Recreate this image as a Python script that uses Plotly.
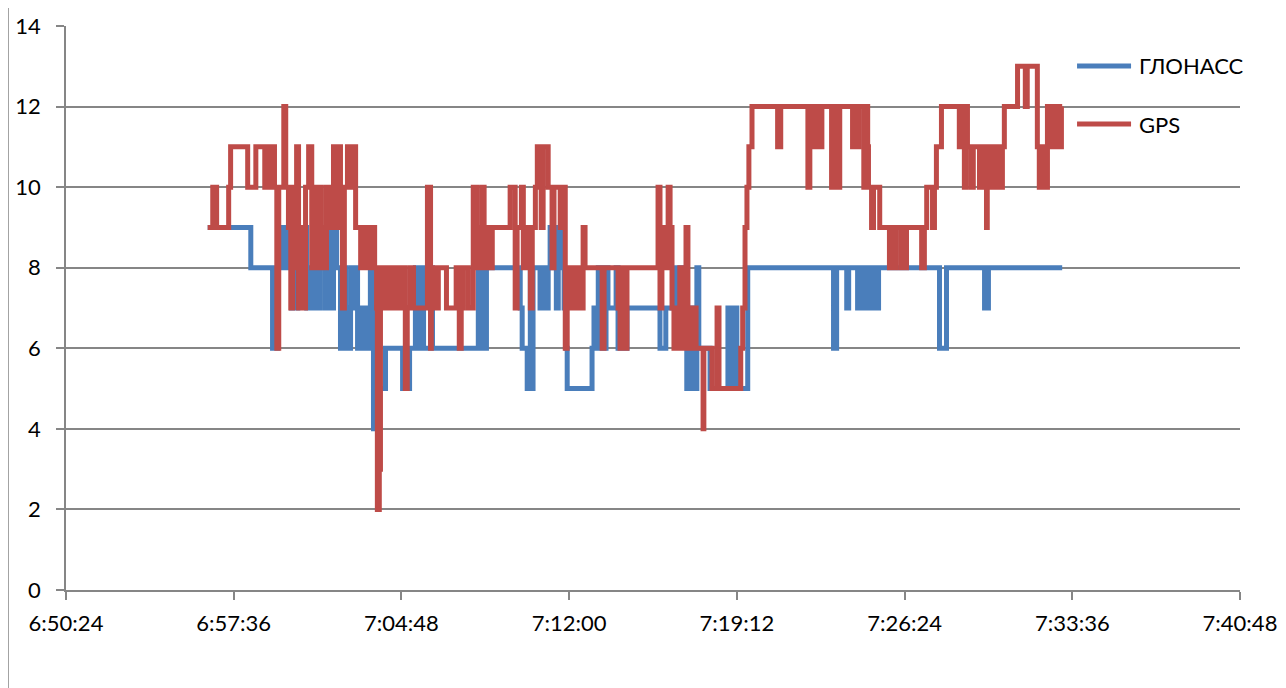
import pandas as pd
import plotly.graph_objects as go

# ---- data (time of day, number of satellites) ----
glonass_time = [
    "6:56:29", "6:58:20", "6:59:16", "6:59:29", "6:59:37", "6:59:45", "6:59:55", "7:00:00",
    "7:00:05", "7:00:10", "7:00:15", "7:00:21", "7:00:28", "7:00:36", "7:00:44", "7:00:51",
    "7:00:57", "7:01:04", "7:01:09", "7:01:17", "7:01:25", "7:01:30", "7:01:35", "7:01:43",
    "7:01:53", "7:02:01", "7:02:11", "7:02:19", "7:02:24", "7:02:29", "7:02:37", "7:02:42",
    "7:02:50", "7:02:55", "7:03:03", "7:03:08", "7:03:15", "7:03:21", "7:03:28", "7:03:36",
    "7:03:41", "7:04:07", "7:04:51", "7:05:09", "7:05:24", "7:05:32", "7:05:37", "7:05:45",
    "7:06:03", "7:06:08", "7:08:06", "7:08:11", "7:08:16", "7:08:21", "7:08:27", "7:09:54",
    "7:09:59", "7:10:12", "7:10:15", "7:10:20", "7:10:22", "7:10:27", "7:10:45", "7:10:51",
    "7:10:58", "7:11:06", "7:11:11", "7:11:19", "7:11:27", "7:11:32", "7:11:42", "7:11:47",
    "7:11:52", "7:11:55", "7:12:59", "7:13:04", "7:13:09", "7:13:15", "7:13:20", "7:13:25",
    "7:13:30", "7:13:35", "7:13:40", "7:14:01", "7:14:06", "7:14:14", "7:14:21", "7:14:29",
    "7:15:54", "7:16:09", "7:16:27", "7:16:35", "7:16:43", "7:16:51", "7:17:03", "7:17:11",
    "7:17:19", "7:17:29", "7:17:34", "7:18:03", "7:18:49", "7:18:57", "7:19:02", "7:19:12",
    "7:19:40", "7:23:21", "7:23:29", "7:23:55", "7:24:00", "7:24:23", "7:24:28", "7:24:33",
    "7:24:39", "7:24:44", "7:24:49", "7:24:54", "7:25:04", "7:25:09", "7:25:17", "7:27:54",
    "7:28:12", "7:29:50", "7:30:00", "7:33:10",
]
glonass_sats = [
    9, 8, 6, 9, 8, 9, 8, 9,
    7, 9, 7, 9, 8, 9, 7, 8,
    7, 8, 7, 9, 8, 7, 9, 7,
    9, 8, 6, 8, 7, 6, 8, 7,
    8, 6, 7, 6, 7, 6, 8, 4,
    5, 6, 5, 6, 8, 6, 8, 6,
    8, 6, 8, 6, 8, 6, 8, 7,
    6, 5, 6, 8, 5, 8, 7, 8,
    7, 8, 9, 8, 7, 9, 8, 7,
    6, 5, 6, 7, 6, 8, 6, 8,
    6, 8, 7, 8, 6, 7, 6, 7,
    6, 7, 8, 7, 8, 7, 5, 7,
    5, 8, 6, 5, 7, 5, 7, 5,
    8, 6, 8, 7, 8, 7, 8, 7,
    8, 7, 8, 7, 8, 7, 8, 6,
    8, 7, 8, 8,
]

gps_time = [
    "6:56:29", "6:56:42", "6:56:52", "6:57:23", "6:57:28", "6:58:12", "6:58:33", "6:58:56",
    "6:59:01", "6:59:09", "6:59:14", "6:59:21", "6:59:27", "6:59:32", "6:59:45", "6:59:50",
    "6:59:57", "7:00:03", "7:00:08", "7:00:13", "7:00:18", "7:00:23", "7:00:28", "7:00:33",
    "7:00:41", "7:00:49", "7:00:57", "7:01:02", "7:01:07", "7:01:12", "7:01:17", "7:01:22",
    "7:01:27", "7:01:35", "7:01:45", "7:01:53", "7:02:01", "7:02:06", "7:02:11", "7:02:16",
    "7:02:21", "7:02:29", "7:02:37", "7:02:45", "7:02:50", "7:03:03", "7:03:08", "7:03:15",
    "7:03:21", "7:03:28", "7:03:33", "7:03:39", "7:03:44", "7:03:46", "7:03:51", "7:03:54",
    "7:04:02", "7:04:07", "7:04:15", "7:04:22", "7:04:27", "7:04:35", "7:04:45", "7:04:53",
    "7:04:58", "7:05:03", "7:05:11", "7:05:19", "7:05:55", "7:06:03", "7:06:05", "7:06:15",
    "7:06:23", "7:06:44", "7:07:09", "7:07:17", "7:07:22", "7:07:27", "7:07:40", "7:07:53",
    "7:08:03", "7:08:09", "7:08:16", "7:08:21", "7:08:27", "7:08:37", "7:08:42", "7:09:28",
    "7:09:41", "7:09:46", "7:09:57", "7:10:02", "7:10:09", "7:10:20", "7:10:25", "7:10:33",
    "7:10:38", "7:10:48", "7:10:53", "7:11:06", "7:11:16", "7:11:21", "7:11:37", "7:11:45",
    "7:11:50", "7:11:55", "7:12:00", "7:12:05", "7:12:13", "7:12:21", "7:12:28", "7:12:36",
    "7:12:41", "7:13:25", "7:13:30", "7:14:06", "7:14:11", "7:14:16", "7:14:24", "7:14:29",
    "7:15:49", "7:15:54", "7:15:59", "7:16:04", "7:16:15", "7:16:20", "7:16:25", "7:16:30",
    "7:16:35", "7:16:40", "7:16:45", "7:16:51", "7:17:01", "7:17:06", "7:17:11", "7:17:19",
    "7:17:27", "7:17:45", "7:17:47", "7:18:08", "7:18:21", "7:18:26", "7:19:22", "7:19:27",
    "7:19:33", "7:19:38", "7:19:43", "7:19:51", "7:20:57", "7:21:05", "7:22:15", "7:22:20",
    "7:22:25", "7:22:30", "7:22:35", "7:22:40", "7:22:45", "7:22:51", "7:23:16", "7:23:21",
    "7:23:32", "7:23:37", "7:24:10", "7:24:15", "7:24:21", "7:24:26", "7:24:39", "7:24:44",
    "7:24:49", "7:24:51", "7:24:59", "7:25:04", "7:25:20", "7:25:45", "7:25:51", "7:25:56",
    "7:26:01", "7:26:14", "7:26:19", "7:26:24", "7:26:29", "7:27:08", "7:27:15", "7:27:21",
    "7:27:36", "7:27:41", "7:27:46", "7:27:59", "7:28:45", "7:28:51", "7:28:58", "7:29:03",
    "7:29:06", "7:29:16", "7:29:21", "7:29:37", "7:29:42", "7:29:50", "7:29:55", "7:29:57",
    "7:30:05", "7:30:10", "7:30:18", "7:30:23", "7:30:31", "7:30:36", "7:30:41", "7:31:15",
    "7:31:35", "7:31:40", "7:32:06", "7:32:11", "7:32:19", "7:32:27", "7:32:32", "7:32:37",
    "7:32:42", "7:32:50", "7:32:57", "7:33:03", "7:33:08", "7:33:10",
]
gps_sats = [
    9, 10, 9, 10, 11, 10, 11, 10,
    11, 10, 11, 10, 6, 10, 12, 10,
    9, 7, 10, 8, 11, 7, 9, 7,
    10, 11, 8, 10, 9, 8, 10, 9,
    8, 10, 9, 11, 9, 11, 9, 7,
    10, 11, 10, 11, 9, 8, 9, 8,
    9, 8, 9, 8, 7, 2, 3, 8,
    7, 8, 7, 8, 7, 8, 7, 8,
    5, 7, 8, 7, 10, 6, 8, 7,
    8, 7, 8, 6, 7, 8, 7, 10,
    8, 9, 10, 8, 9, 8, 9, 10,
    7, 9, 10, 8, 9, 7, 9, 10,
    11, 9, 11, 10, 8, 10, 9, 10,
    6, 8, 7, 8, 7, 8, 7, 9,
    8, 6, 8, 7, 6, 8, 6, 8,
    10, 7, 9, 8, 10, 9, 7, 6,
    7, 6, 8, 6, 9, 7, 6, 7,
    6, 4, 6, 5, 7, 5, 6, 7,
    9, 10, 11, 12, 11, 12, 10, 12,
    11, 12, 11, 12, 11, 12, 10, 12,
    10, 12, 11, 12, 11, 12, 10, 12,
    11, 10, 9, 10, 9, 8, 9, 8,
    9, 8, 9, 8, 9, 8, 9, 10,
    9, 10, 11, 12, 11, 12, 10, 12,
    11, 10, 11, 10, 11, 10, 9, 11,
    10, 11, 10, 11, 10, 11, 12, 13,
    12, 13, 11, 10, 11, 10, 12, 11,
    12, 11, 12, 11, 12, 12,
]

series_names = ["ГЛОНАСС", "GPS"]
series_colors = ["#4A7EBB", "#BE4B48"]
x_start, x_end = "6:50:24", "7:40:48"

DAY = "2000-01-01 "


def to_dt(times):
    return pd.to_datetime([DAY + t for t in times])


FONT = "Lato, 'Open Sans', 'DejaVu Sans', sans-serif"
GRID = "#868686"
FS = 22

fig = go.Figure()
for name, color, tt, vv in [
    (series_names[0], series_colors[0], glonass_time, glonass_sats),
    (series_names[1], series_colors[1], gps_time, gps_sats),
]:
    fig.add_trace(go.Scatter(
        x=to_dt(tt), y=vv, name=name, mode="lines",
        line=dict(color=color, width=5, shape="hv"),
        showlegend=False,
    ))

# the page adds an 8px body margin, so the margins compensate for it
fig.update_layout(
    width=1286, height=688,
    margin=dict(l=58, r=54, t=18, b=106),
    paper_bgcolor="white", plot_bgcolor="white",
    font=dict(family=FONT, size=FS, color="black"),
)
fig.update_xaxes(
    type="date", automargin=False,
    range=[DAY + x_start, DAY + x_end],
    tick0=DAY + x_start, dtick=432000,
    tickformat="%-H:%M:%S",
    showgrid=False, zeroline=False,
    showline=True, linecolor=GRID, linewidth=1.5,
    ticks="outside", ticklen=8, tickcolor=GRID, tickwidth=1.5,
    ticklabelstandoff=5,
    tickfont=dict(family=FONT, size=FS, color="black"),
)
fig.update_yaxes(
    automargin=False,
    range=[0, 14], dtick=2, tick0=0,
    showgrid=True, gridcolor=GRID, gridwidth=1.5,
    zeroline=False,
    showline=True, linecolor=GRID, linewidth=1.5,
    ticks="outside", ticklen=8, tickcolor=GRID, tickwidth=1.5,
    ticklabelstandoff=11,
    tickfont=dict(family=FONT, size=FS, color="black"),
)

# legend drawn at the right, inside the chart frame
leg_y = [0.9291, 0.8262]
for name, color, yy in zip(series_names, series_colors, leg_y):
    fig.add_shape(type="line", xref="paper", yref="paper",
                  x0=0.8612, x1=0.9072, y0=yy, y1=yy,
                  line=dict(color=color, width=5))
    fig.add_annotation(xref="paper", yref="paper", x=0.9123, y=yy,
                       text=name, showarrow=False, xanchor="left", yanchor="middle",
                       font=dict(family=FONT, size=FS, color="black"))

# chart frame
fig.add_shape(type="rect", xref="paper", yref="paper",
              x0=-0.0494, x1=1.08, y0=-0.25, y1=1.08,
              line=dict(color=GRID, width=1.5), layer="below")

fig.write_html("out.html")
